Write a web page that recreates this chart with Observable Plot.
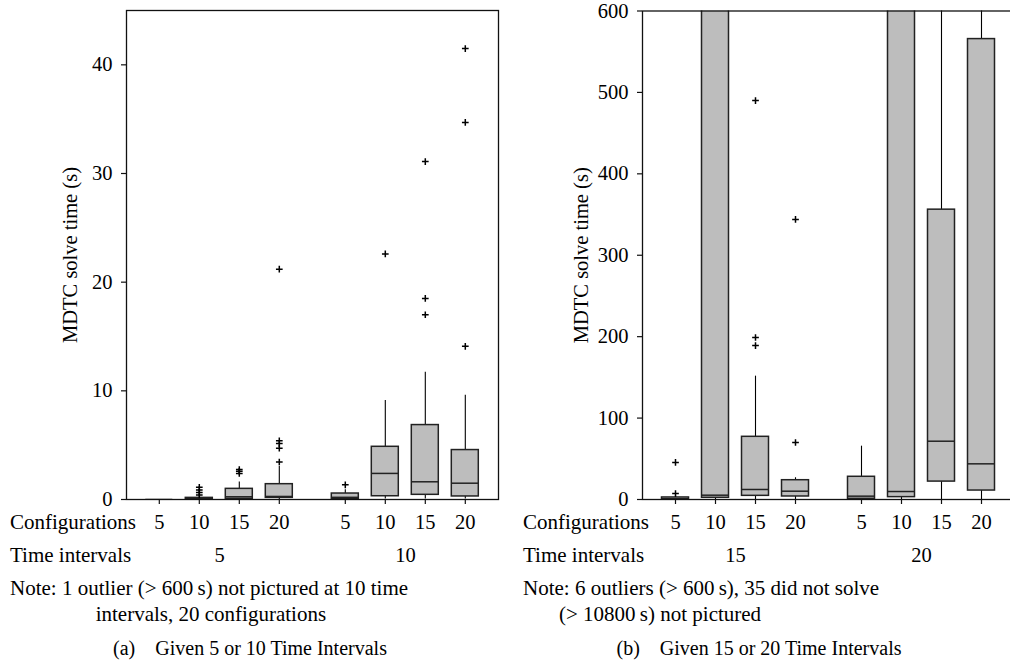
<!DOCTYPE html>
<html><head><meta charset="utf-8">
<script src="https://cdn.jsdelivr.net/npm/d3@7"></script>
<script src="https://cdn.jsdelivr.net/npm/@observablehq/plot@0.6"></script>
<style>
html,body{margin:0;padding:0;background:#fff;overflow:hidden;width:1010px;height:662px}
#wrap{position:relative;width:1010px;height:662px;overflow:hidden;font-family:"Liberation Serif",serif;background:#fff}
#wrap svg{position:absolute;top:0}
</style></head><body><div id="wrap"></div>
<script>
// ---------- data ----------
const configurations = ["5", "10", "15", "20"];
const intervalsA = ["5", "10"];
const intervalsB = ["15", "20"];
// order: interval 1 (configs 5,10,15,20), interval 2 (configs 5,10,15,20)
// Panel (a): 5 or 10 time intervals, seconds
const lowA  = [0, 0, 0, 0, 0, 0.05, 0.05, 0.05];
const q1A   = [0, 0.01, 0.06, 0.15, 0.06, 0.3, 0.43, 0.28];
const medA  = [0, 0.05, 0.25, 0.28, 0.2, 2.4, 1.63, 1.5];
const q3A   = [0, 0.15, 0.98, 1.41, 0.55, 4.85, 6.85, 4.55];
const highA = [0, 0.3, 1.6, 3.05, 0.9, 9.1, 11.7, 9.6];
const outliersA = [[], [0.42, 0.65, 0.88, 1.12], [2.4, 2.6, 2.75], [3.45, 4.72, 5.15, 5.4, 21.2],
                   [1.35], [22.6], [17.0, 18.5, 31.1], [14.1, 34.7, 41.5]];
// Panel (b): 15 or 20 time intervals, seconds (values above 600 s are beyond the view)
const lowB  = [0, 0, 0, 0, 0, 0, 0, 0];
const q1B   = [0.3, 2.1, 4.5, 3.7, 0.8, 2.9, 22, 11];
const medB  = [1, 5.3, 12.3, 10.2, 4.1, 9.8, 71.6, 43.8];
const q3B   = [2.5, 900, 77, 23.7, 27.9, 900, 356, 565.5];
const highB = [5, 1500, 151.5, 26.7, 65.5, 1500, 1500, 1500];
const outliersB = [[7.4, 45.5], [], [189, 199, 490], [70, 344], [], [], [], []];
const yTicksA = [0, 10, 20, 30, 40];
const yTicksB = [0, 100, 200, 300, 400, 500, 600];
const yLabel = "MDTC solve time (s)";

// ---------- build tables ----------
function boxRows(intervals, low, q1, med, q3, high) {
  const rows = [];
  intervals.forEach((t, i) => configurations.forEach((c, j) => {
    const k = i * configurations.length + j;
    rows.push({interval: t, config: c, low: low[k], q1: q1[k], med: med[k], q3: q3[k], high: high[k]});
  }));
  return rows;
}
function outlierRows(intervals, outs) {
  const rows = [];
  intervals.forEach((t, i) => configurations.forEach((c, j) => {
    outs[i * configurations.length + j].forEach(v => rows.push({interval: t, config: c, value: v}));
  }));
  return rows;
}

const FONT = "Liberation Serif";
const FS = 20.5;
function panel({rows, outs, intervals, yMax, yTicks, width, height, marginLeft, marginRight, marginTop, marginBottom, labelOffset}) {
  const common = {fx: "interval", x: "config", clip: true};
  return Plot.plot({
    width, height, marginLeft, marginRight, marginTop, marginBottom,
    style: {fontFamily: FONT, fontSize: FS + "px", color: "#000", background: "transparent", overflow: "visible"},
    fx: {domain: intervals, paddingInner: 0, paddingOuter: 0, label: null},
    x: {domain: configurations, paddingInner: 0.32, paddingOuter: 0.446, label: null},
    y: {domain: [0, yMax], label: null},
    marks: [
      Plot.ruleX(rows, {...common, y1: "low", y2: "q1", stroke: "#000", strokeWidth: 1.1}),
      Plot.ruleX(rows, {...common, y1: "q3", y2: "high", stroke: "#000", strokeWidth: 1.1}),
      Plot.barY(rows, {...common, y1: "q1", y2: "q3", fill: "#bdbdbd", stroke: "#222", strokeWidth: 1.5}),
      Plot.tickY(rows, {...common, y: "med", stroke: "#222", strokeWidth: 1.5}),
      Plot.dot(outs, {fx: "interval", x: "config", y: "value", symbol: "plus", r: 2.3, stroke: "#000", strokeWidth: 1.5}),
      Plot.frame({facet: "super", stroke: "#111", strokeWidth: 1.3}),
      Plot.axisY({ticks: yTicks, tickSize: 5, tickPadding: 9, stroke: "#111", strokeWidth: 1.2, label: yLabel, labelAnchor: "center", labelArrow: "none", labelOffset, fontSize: FS}),
      Plot.axisX({tickSize: 5, tickPadding: 10, stroke: "#111", strokeWidth: 1.2, label: null, fontSize: FS}),
      Plot.axisFx({anchor: "bottom", tickSize: 0, tickPadding: 48, label: null, fontSize: FS})
    ]
  });
}

const wrap = document.getElementById("wrap");
const left = panel({
  rows: boxRows(intervalsA, lowA, q1A, medA, q3A, highA),
  outs: outlierRows(intervalsA, outliersA),
  intervals: intervalsA, yMax: 45, yTicks: yTicksA,
  width: 505, height: 580, marginLeft: 125.7, marginRight: 6, marginTop: 10, marginBottom: 81, labelOffset: 64
});
left.style.left = "0px";
wrap.appendChild(left);
const right = panel({
  rows: boxRows(intervalsB, lowB, q1B, medB, q3B, highB),
  outs: outlierRows(intervalsB, outliersB),
  intervals: intervalsB, yMax: 600, yTicks: yTicksB,
  width: 520, height: 580, marginLeft: 136.5, marginRight: 10.2, marginTop: 10.5, marginBottom: 81, labelOffset: 69
});
right.style.left = "505px";
wrap.appendChild(right);

// ---------- row titles, notes and captions ----------
const texts = [
  {t: "Configurations", x: 10, y: 528.5},
  {t: "Time intervals", x: 10, y: 561.5},
  {t: "Note: 1 outlier (> 600\u2009s) not pictured at 10 time", x: 10, y: 594.5},
  {t: "intervals, 20 configurations", x: 95.7, y: 620.5},
  {t: "(a)\u2003Given 5 or 10 Time Intervals", x: 250, y: 655, a: "middle", s: 20},
  {t: "Configurations", x: 523, y: 528.5},
  {t: "Time intervals", x: 523, y: 561.5},
  {t: "Note: 6 outliers (> 600\u2009s), 35 did not solve", x: 523, y: 594.5},
  {t: "(> 10800\u2009s) not pictured", x: 559, y: 620.5},
  {t: "(b)\u2003Given 15 or 20 Time Intervals", x: 759, y: 655, a: "middle", s: 20}
];
const ov = d3.select(wrap).append("svg").attr("width", 1010).attr("height", 662)
  .style("left", "0px").style("pointer-events", "none");
ov.selectAll("text").data(texts).join("text")
  .attr("x", d => d.x).attr("y", d => d.y)
  .attr("text-anchor", d => d.a || "start")
  .attr("font-family", FONT).attr("font-size", d => d.s || 21).attr("fill", "#000")
  .text(d => d.t);
</script></body></html>
